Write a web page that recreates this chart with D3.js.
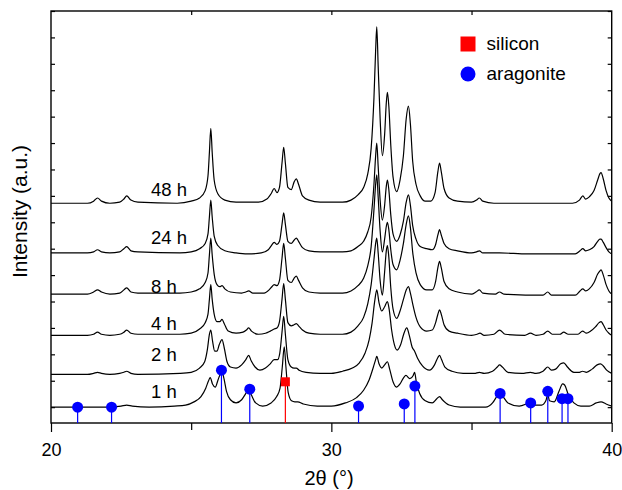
<!DOCTYPE html>
<html>
<head>
<meta charset="utf-8">
<script src="https://cdn.jsdelivr.net/npm/d3@7"></script>
<style>
  body { margin: 0; background: #fff; }
  text { font-family: "Liberation Sans", Arial, sans-serif; fill: #000; }
</style>
</head>
<body>
<script>
// sample names and vertical offsets of each pattern (a.u.)
const samples = ["1 h", "2 h", "4 h", "8 h", "24 h", "48 h"];
const offsets = [0, 31, 68, 107, 146, 193];

// [2theta, intensity], one array per sample
const p1h = [[20.0,0],[21.0,0],[22.0,0],[22.5,1],[22.7,2],[22.9,1],[23.5,0],[24.4,1],[24.8,2],[25.1,5],[25.35,10],[25.52,18],[25.62,25],[25.68,28],[25.76,22],[25.86,19],[25.96,26],[26.05,32],[26.1,34],[26.17,27],[26.26,15],[26.4,7],[26.6,4],[26.8,7],[26.95,13],[27.05,17],[27.14,12],[27.3,4],[27.55,1],[27.85,4],[28.05,10],[28.17,18],[28.25,38],[28.32,57],[28.38,38],[28.46,14],[28.58,6],[28.7,5],[28.8,5],[29.0,3],[29.5,1],[30.0,1],[30.5,4],[30.9,9],[31.15,16],[31.35,26],[31.5,38],[31.58,45],[31.62,48],[31.7,41],[31.8,37],[31.9,40],[32.0,43],[32.08,36],[32.2,24],[32.32,19],[32.45,22],[32.58,28],[32.66,30],[32.8,27],[32.92,30],[32.97,33],[33.03,24],[33.15,13],[33.35,6],[33.6,4],[33.76,8],[33.86,10],[33.96,7],[34.2,2],[34.6,0],[35.5,0],[35.75,4],[35.92,11],[36.0,14],[36.1,11],[36.3,4],[36.7,1],[36.95,3],[37.1,5],[37.25,2],[37.5,2],[37.65,6],[37.72,12],[37.78,6],[37.95,5],[38.12,15],[38.25,22],[38.32,21],[38.45,12],[38.65,4],[38.9,1],[39.2,1],[39.45,4],[39.62,5],[39.8,3],[40.0,1]];
const p2h = [[20.0,0],[21.3,0],[21.52,1],[21.66,2],[21.8,1],[22.1,0],[22.45,1],[22.6,2],[22.7,3],[22.85,1],[23.1,0],[24.6,1],[25.0,2],[25.3,6],[25.48,12],[25.58,24],[25.65,38],[25.7,42],[25.76,32],[25.84,22],[25.92,22],[26.0,28],[26.1,33],[26.18,25],[26.28,12],[26.4,7],[26.6,6],[26.8,9],[26.95,14],[27.05,18],[27.14,13],[27.28,7],[27.45,4],[27.65,6],[27.82,10],[27.96,14],[28.08,14],[28.16,20],[28.24,40],[28.3,55],[28.36,38],[28.45,14],[28.57,7],[28.67,6],[28.75,6],[28.85,4],[29.1,2],[29.6,1],[30.0,1],[30.4,3],[30.75,6],[31.0,11],[31.2,20],[31.35,33],[31.45,48],[31.55,70],[31.62,80],[31.7,68],[31.8,60],[31.9,64],[32.0,69],[32.06,62],[32.15,42],[32.25,28],[32.35,23],[32.47,28],[32.58,38],[32.69,44],[32.78,37],[32.88,26],[32.97,22],[33.08,15],[33.25,8],[33.5,4],[33.68,9],[33.8,16],[33.86,18],[33.93,14],[34.05,7],[34.3,3],[34.7,1],[35.1,1],[35.28,2],[35.45,1],[35.75,3],[35.92,7],[36.0,9],[36.1,7],[36.3,2],[36.8,1],[37.1,2],[37.3,1],[37.55,3],[37.72,7],[37.85,4],[38.0,5],[38.18,10],[38.29,11],[38.42,7],[38.65,2],[38.85,2],[38.96,3],[39.1,2],[39.3,5],[39.48,9],[39.6,10],[39.7,8],[39.82,4],[40.0,1]];
const p4h = [[20.0,0],[21.3,0],[21.52,1],[21.66,3],[21.8,1],[22.1,0],[22.45,1],[22.6,3],[22.7,5],[22.85,2],[23.1,1],[24.6,1],[25.0,2],[25.3,6],[25.5,12],[25.6,20],[25.65,34],[25.7,48],[25.75,34],[25.82,20],[25.92,13],[26.02,13],[26.1,15],[26.18,11],[26.32,4],[26.6,2],[26.85,3],[26.97,5],[27.05,7],[27.15,4],[27.4,1],[27.65,2],[27.82,4],[27.96,6],[28.06,7],[28.15,13],[28.24,34],[28.3,49],[28.36,34],[28.45,12],[28.57,9],[28.67,10],[28.75,11],[28.83,9],[28.97,5],[29.2,2],[29.6,1],[30.4,1],[30.7,3],[30.95,9],[31.15,17],[31.3,30],[31.42,48],[31.52,72],[31.58,87],[31.62,92],[31.67,78],[31.74,52],[31.82,38],[31.9,60],[31.96,80],[32.0,85],[32.05,74],[32.12,45],[32.2,25],[32.33,16],[32.45,23],[32.57,34],[32.67,43],[32.75,46],[32.82,40],[32.9,30],[33.02,17],[33.17,8],[33.4,4],[33.6,5],[33.72,12],[33.8,20],[33.86,24],[33.92,20],[34.02,10],[34.2,4],[34.5,2],[35.0,0],[35.2,1],[35.3,2],[35.45,0],[35.8,1],[36.0,5],[36.2,1],[36.9,0],[37.1,2],[37.3,0],[37.55,1],[37.72,4],[37.88,1],[38.15,1],[38.29,3],[38.45,1],[38.8,1],[38.96,4],[39.1,2],[39.25,4],[39.42,8],[39.55,12],[39.62,13],[39.7,10],[39.8,5],[39.9,2],[40.0,0]];
const p8h = [[20.0,0],[21.3,0],[21.52,2],[21.66,4],[21.8,2],[22.1,0],[22.45,1],[22.6,4],[22.7,6],[22.85,2],[23.1,1],[24.6,1],[25.0,2],[25.3,5],[25.5,11],[25.6,20],[25.65,37],[25.7,53],[25.75,37],[25.82,19],[25.92,9],[26.02,7],[26.1,8],[26.2,5],[26.4,2],[26.8,1],[26.95,2],[27.05,3],[27.2,1],[27.6,1],[27.78,4],[27.88,7],[27.96,9],[28.06,8],[28.15,13],[28.24,34],[28.3,48],[28.36,34],[28.45,13],[28.57,11],[28.67,15],[28.75,17],[28.83,13],[28.97,6],[29.2,2],[29.6,1],[30.4,1],[30.7,3],[30.95,8],[31.15,15],[31.3,27],[31.42,45],[31.52,80],[31.58,104],[31.62,113],[31.67,92],[31.74,60],[31.82,40],[31.9,52],[31.96,64],[32.0,68],[32.05,61],[32.12,42],[32.2,28],[32.33,23],[32.45,32],[32.57,48],[32.67,66],[32.75,74],[32.82,63],[32.9,40],[33.02,20],[33.17,9],[33.4,4],[33.6,4],[33.72,12],[33.8,25],[33.86,31],[33.92,25],[34.02,12],[34.2,5],[34.5,2],[35.0,0],[35.16,2],[35.28,4],[35.4,1],[35.85,0],[36.0,2],[36.15,0],[37.55,-1],[37.72,2],[37.85,-1],[38.7,-1],[38.87,3],[38.97,5],[39.07,3],[39.2,5],[39.37,11],[39.5,19],[39.58,22],[39.62,23],[39.7,18],[39.8,9],[39.9,3],[40.0,0]];
const p24h = [[20.0,0],[21.3,0],[21.52,1],[21.66,3],[21.8,1],[22.1,0],[22.45,1],[22.6,4],[22.7,6],[22.85,2],[23.1,1],[24.6,0],[25.0,1],[25.3,4],[25.5,9],[25.6,18],[25.65,34],[25.7,50],[25.75,34],[25.82,16],[25.95,7],[26.2,2],[26.6,0],[27.0,-1],[27.5,0],[27.75,3],[27.86,7],[27.96,10],[28.06,8],[28.15,11],[28.24,27],[28.3,38],[28.36,27],[28.45,11],[28.57,9],[28.67,12],[28.75,14],[28.83,11],[28.97,5],[29.2,2],[29.6,1],[30.4,1],[30.7,2],[30.95,6],[31.15,11],[31.3,20],[31.42,34],[31.52,65],[31.58,92],[31.62,104],[31.67,82],[31.74,50],[31.82,31],[31.9,45],[31.96,63],[32.0,69],[32.05,60],[32.12,36],[32.2,18],[32.33,11],[32.45,17],[32.57,30],[32.67,48],[32.75,55],[32.82,45],[32.9,26],[33.02,13],[33.17,6],[33.4,4],[33.6,3],[33.72,8],[33.8,17],[33.86,22],[33.92,17],[34.02,9],[34.2,4],[34.5,2],[35.0,0],[35.18,1],[35.28,2],[35.4,0],[36.0,0],[37.0,-1],[38.7,-1],[38.87,2],[38.97,4],[39.07,2],[39.2,3],[39.37,6],[39.5,11],[39.58,13],[39.62,13],[39.7,10],[39.8,5],[39.9,1],[40.0,-1]];
const p48h = [[20.0,0],[21.3,0],[21.52,2],[21.66,5],[21.8,2],[22.1,0],[22.45,1],[22.6,4],[22.7,7],[22.85,3],[23.1,1],[24.5,0],[25.0,2],[25.3,5],[25.5,12],[25.6,26],[25.65,48],[25.7,71],[25.75,48],[25.82,22],[25.95,9],[26.2,3],[26.6,1],[27.4,1],[27.7,4],[27.85,9],[27.96,14],[28.06,10],[28.15,15],[28.24,38],[28.3,53],[28.36,38],[28.45,15],[28.57,13],[28.67,20],[28.75,23],[28.83,18],[28.97,7],[29.2,3],[29.6,1],[30.4,1],[30.7,3],[30.95,8],[31.15,15],[31.3,28],[31.42,52],[31.52,100],[31.58,145],[31.62,167],[31.67,130],[31.74,80],[31.82,45],[31.9,65],[31.96,95],[32.0,105],[32.05,92],[32.12,55],[32.2,25],[32.33,11],[32.45,22],[32.57,45],[32.67,80],[32.75,92],[32.82,75],[32.9,40],[33.02,18],[33.17,7],[33.35,2],[33.55,2],[33.7,10],[33.8,30],[33.86,38],[33.92,30],[34.02,14],[34.2,5],[34.5,2],[35.0,1],[35.18,3],[35.28,5],[35.4,2],[35.8,0],[38.6,0],[38.85,3],[38.97,7],[39.07,4],[39.2,6],[39.37,12],[39.5,22],[39.58,28],[39.62,29],[39.7,23],[39.8,12],[39.9,5],[40.0,2]];
const patterns = [p1h, p2h, p4h, p8h, p24h, p48h];

// reference reflections [2theta, relative intensity]
const aragonite = [[20.95,0],[22.16,0],[26.08,35],[27.09,17],[30.97,1],[32.60,3],[32.98,20],[36.02,13],[37.11,4],[37.72,15],[38.23,8],[38.44,8]];
const silicon = [[28.36,24]];

const xTicks = [20, 25, 30, 35, 40];
const xLabels = [20, 30, 40];

const margin = { top: 11, right: 10.3, bottom: 67, left: 51 };
const width = 622 - margin.left - margin.right;
const height = 490 - margin.top - margin.bottom;

const x = d3.scaleLinear().domain([20, 40]).range([0, width]);
const y = d3.scaleLinear().domain([-15, 375]).range([height, 0]);

const svg = d3.select("body").append("svg")
  .attr("width", 622)
  .attr("height", 490)
  .append("g")
  .attr("transform", "translate(" + margin.left + "," + margin.top + ")");

// axes
const bottom = svg.append("g")
  .attr("transform", "translate(0," + height + ")")
  .call(d3.axisBottom(x).tickValues(xTicks).tickSizeOuter(0).tickSize(9).tickPadding(11)
    .tickFormat(d => xLabels.includes(d) ? d : ""));
bottom.selectAll(".tick line").attr("y2", d => xLabels.includes(d) ? 9 : 7);

svg.append("g")
  .call(d3.axisTop(x).tickValues([25, 30, 35]).tickSize(-4).tickSizeOuter(0).tickFormat(""));

const yTicks = d3.range(0, 376, 25);
svg.append("g")
  .call(d3.axisLeft(y).tickValues(yTicks).tickSize(-4).tickSizeOuter(0).tickFormat(""));
svg.append("g")
  .attr("transform", "translate(" + width + ",0)")
  .call(d3.axisRight(y).tickValues(yTicks).tickSize(-4).tickSizeOuter(0).tickFormat(""));

svg.selectAll(".domain").remove();
svg.selectAll(".tick line").attr("stroke", "#000").attr("stroke-width", 1.2);
bottom.selectAll("text").style("font-size", "18px");

svg.append("rect")
  .attr("width", width)
  .attr("height", height)
  .attr("fill", "none")
  .attr("stroke", "#000")
  .attr("stroke-width", 1.4);

// patterns
const line = d3.line().curve(d3.curveMonotoneX);
svg.selectAll(".pattern")
  .data(patterns)
  .enter().append("path")
  .attr("class", "pattern")
  .attr("fill", "none")
  .attr("stroke", "#000")
  .attr("stroke-width", 1.2)
  .attr("d", (d, i) => line(d.map(p => [x(p[0]), y(p[1] + offsets[i])])));

// sample labels
const labelNudge = [-9, -13.5, -5.5, -1.6, -9, -7.6];
svg.selectAll(".label")
  .data(samples)
  .enter().append("text")
  .attr("class", "label")
  .attr("x", 100)
  .attr("y", (d, i) => y(offsets[i]) + labelNudge[i])
  .style("font-size", "18.5px")
  .text(d => d);

// reference sticks and markers
svg.selectAll(".arag-stick")
  .data(aragonite)
  .enter().append("line")
  .attr("x1", d => x(d[0])).attr("x2", d => x(d[0]))
  .attr("y1", d => y(d[1])).attr("y2", height)
  .attr("stroke", "#0000ff").attr("stroke-width", 1.2);

svg.selectAll(".si-stick")
  .data(silicon)
  .enter().append("line")
  .attr("x1", d => x(d[0])).attr("x2", d => x(d[0]))
  .attr("y1", d => y(d[1])).attr("y2", height)
  .attr("stroke", "#ff0000").attr("stroke-width", 1.2);

svg.selectAll(".arag")
  .data(aragonite)
  .enter().append("circle")
  .attr("cx", d => x(d[0]))
  .attr("cy", d => y(d[1]))
  .attr("r", 5.5)
  .attr("fill", "#0000ff");

svg.selectAll(".si")
  .data(silicon)
  .enter().append("rect")
  .attr("x", d => x(d[0]) - 4.5)
  .attr("y", d => y(d[1]) - 4.5)
  .attr("width", 9)
  .attr("height", 9)
  .attr("fill", "#ff0000");

// axis titles
svg.append("text")
  .attr("x", 278)
  .attr("y", height + 62)
  .attr("text-anchor", "middle")
  .style("font-size", "20px")
  .text("2\u03b8  (\u00b0)");

svg.append("text")
  .attr("transform", "translate(-24," + (211.5 - margin.top) + ") rotate(-90)")
  .attr("text-anchor", "middle")
  .style("font-size", "21px")
  .text("Intensity (a.u.)");

// legend
const legend = svg.append("g")
  .attr("transform", "translate(" + (468 - margin.left) + "," + (44 - margin.top) + ")");
legend.append("rect")
  .attr("x", -7.5).attr("y", -7.5)
  .attr("width", 15).attr("height", 15)
  .attr("fill", "#ff0000");
legend.append("circle")
  .attr("cy", 30).attr("r", 7.5)
  .attr("fill", "#0000ff");
legend.append("text")
  .attr("x", 18.5).attr("y", 6)
  .style("font-size", "19px")
  .text("silicon");
legend.append("text")
  .attr("x", 18.5).attr("y", 36)
  .style("font-size", "19px")
  .text("aragonite");
</script>
</body>
</html>
